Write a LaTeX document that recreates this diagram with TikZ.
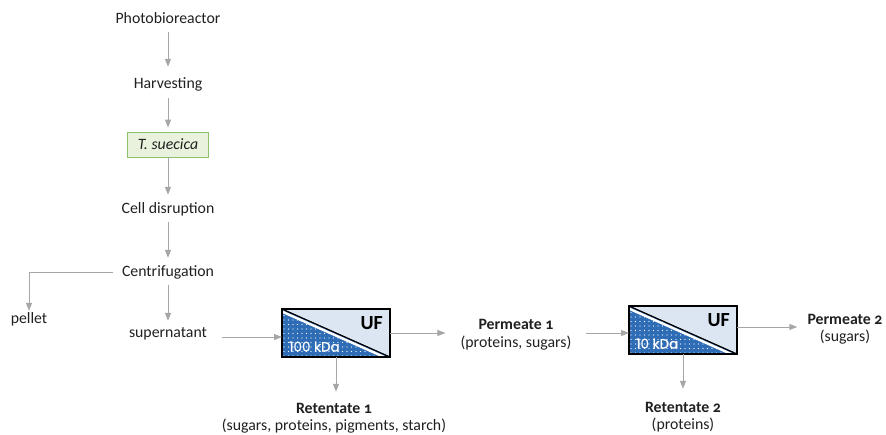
\documentclass[tikz,border=0pt]{standalone}
\usepackage{fontspec}
\setmainfont{Carlito}[Numbers=OldStyle]
\newfontfamily\kdafont{Poppins}[FakeBold=0.8]
\usetikzlibrary{arrows.meta,calc}

\definecolor{arrowgray}{HTML}{A6A6A6}
\definecolor{txt}{HTML}{202020}
\definecolor{ufdark}{HTML}{2E6CB6}
\definecolor{uflight}{HTML}{DCE6F2}
\definecolor{boxgreen}{HTML}{8CC26C}
\definecolor{fillgreen}{HTML}{E8F2DC}

% ultrafiltration unit: name, centre, cut-off label
\newcommand{\ufbox}[3]{%
  \node[ufnode] (#1) at (#2) {};
  \fill[uflight] (#1.north west) rectangle (#1.south east);
  \begin{scope}
    \clip (#1.north west) -- (#1.south east) -- (#1.south west) -- cycle;
    \fill[ufdark] (#1.north west) rectangle (#1.south east);
    \foreach \i in {0,...,24}{\foreach \j in {0,...,11}{%
      \fill[white] ($(#1.north west)+(2+4.5*\i,2+4.5*\j)$) circle (0.6pt);}}
  \end{scope}
  \begin{scope}
    \clip (#1.north west) rectangle (#1.south east);
    \draw[white,line width=2.4pt] ($(#1.north west)+(0,2.6)$) -- ($(#1.south east)+(0,2.6)$);
  \end{scope}
  \draw[black,line width=1.2pt] (#1.north west) -- (#1.south east);
  \draw[black,line width=1.2pt] (#1.north west) rectangle (#1.south east);
  \node[uftext,anchor=base east] (#1uf) at ($(#1.north east)+(-7,20.5)$) {UF};
  \node[kdatext,anchor=base west] (#1kda) at ($(#1.south west)+(7,-5.5)$) {#3};
}

\begin{document}
\begin{tikzpicture}[x=1pt,y=-1pt,
  every node/.style={text=txt,font=\fontsize{15.8}{19}\selectfont,inner sep=0pt},
  lbl/.style={anchor=base,text height=11pt,text depth=4pt,inner ysep=5pt,inner xsep=4pt},
  ttl/.style={lbl,font=\bfseries\fontsize{15.8}{19}\selectfont},
  arr/.style={draw=arrowgray,line width=1pt,-{Triangle[length=8pt,width=6pt]}},
  tsbox/.style={draw=boxgreen,fill=fillgreen,line width=0.8pt,minimum width=81pt,minimum height=25pt},
  ufnode/.style={minimum width=108pt,minimum height=48pt,inner sep=0pt,outer sep=0pt},
  uftext/.style={font=\bfseries\fontsize{20}{20}\selectfont,text=black},
  kdatext/.style={font=\kdafont\fontsize{13.5}{14}\selectfont,text=white}]

\useasboundingbox (0,0) rectangle (886,434);

% main processing column
\node[lbl] (photo) at (168,23) {Photobioreactor};
\node[lbl] (harv) at (168,88) {Harvesting};
\node[tsbox] (ts) at (168,144.5) {\itshape T. suecica};
\node[lbl] (cell) at (168,213) {Cell disruption};
\node[lbl] (cent) at (168,276) {Centrifugation};
\node[lbl] (sup) at (168,337) {supernatant};
\node[lbl] (pellet) at (29,323) {pellet};

\draw[arr,shorten >=5pt] (photo) -- (harv);
\draw[arr,shorten <=1pt,shorten >=4pt] (harv) -- (ts);
\draw[arr,shorten >=2pt] (ts) -- (cell);
\draw[arr,shorten >=2pt] (cell) -- (cent);
\draw[arr] (cent) -- (sup);
\draw[arr,shorten <=5pt,shorten >=-4pt] (cent.west) -| (pellet.north);

% ultrafiltration units
\ufbox{uf1}{336,333}{100 kDa}
\ufbox{uf2}{683,330}{10 kDa}

% products
\node[ttl] (perm1) at (516,329) {Permeate 1};
\node[lbl] (perm1d) at (516,347) {(proteins, sugars)};
\node[ttl] (perm2) at (845,324) {Permeate 2};
\node[lbl] (perm2d) at (845,341) {(sugars)};
\node[ttl] (ret1) at (334,413) {Retentate 1};
\node[lbl] (ret1d) at (334,430) {(sugars, proteins, pigments, starch)};
\node[ttl] (ret2) at (683,412) {Retentate 2};
\node[lbl] (ret2d) at (683,429) {(proteins)};

\coordinate (uf2out) at ([yshift=3pt]uf2.east);

\draw[arr,shorten <=11pt] (sup.base east) -- (sup.base east -| uf1.west);
\draw[arr,shorten >=11pt] (uf1.east) -- (uf1.east -| perm1d.west);
\draw[arr,shorten <=10pt] (uf1.east -| perm1d.east) -- (uf1.east -| uf2.west);
\draw[arr,shorten >=6pt] (uf2out) -- (uf2out -| perm2.west);
\draw[arr,shorten >=5pt] (uf1.south) -- (uf1.south |- ret1.north);
\draw[arr,shorten >=7pt] (uf2.south) -- (uf2.south |- ret2.north);

\end{tikzpicture}
\end{document}
